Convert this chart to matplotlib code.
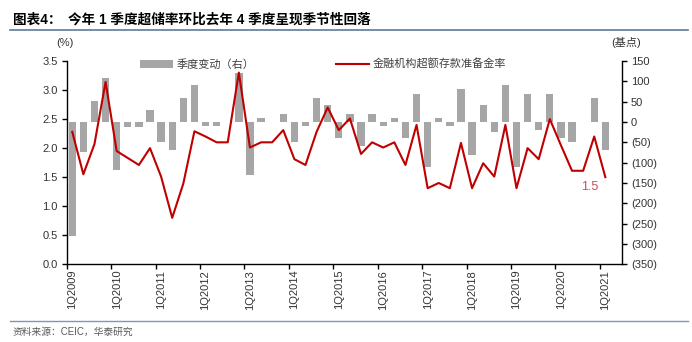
import numpy as np
import matplotlib
matplotlib.use("Agg")
import matplotlib.pyplot as plt
from matplotlib.patches import Patch
from matplotlib.lines import Line2D
from matplotlib.ticker import FuncFormatter

plt.rcParams['font.family'] = ['Liberation Sans', 'Noto Sans CJK SC', 'DejaVu Sans']

# 数据：金融机构超额存款准备金率 (%) 与季度变动 (基点)
quarters = ['%dQ%d' % (q, y) for y in range(2009, 2022) for q in range(1, 5)][:49]
ratio = [2.28, 1.55, 2.07, 3.14, 1.95, 1.83, 1.71, 2.00, 1.51, 0.80, 1.39, 2.29,
         2.20, 2.10, 2.10, 3.30, 2.01, 2.10, 2.10, 2.31, 1.81, 1.71, 2.28, 2.70,
         2.31, 2.51, 1.90, 2.10, 2.01, 2.10, 1.71, 2.40, 1.31, 1.40, 1.31, 2.09,
         1.31, 1.74, 1.51, 2.40, 1.31, 2.00, 1.81, 2.50, 2.05, 1.61, 1.61, 2.20,
         1.50]
change_bp = [-280, -74, 52, 107, -118, -13, -12, 30, -50, -70, 60, 90,
             -10, -10, 0, 120, -130, 10, 0, 20, -50, -10, 58, 42,
             -40, 20, -60, 20, -10, 10, -40, 70, -110, 10, -10, 80,
             -80, 43, -25, 90, -110, 70, -20, 70, -40, -50, 0, 60,
             -70]
left_ticks = [0.0, 0.5, 1.0, 1.5, 2.0, 2.5, 3.0, 3.5]
right_ticks = [-350, -300, -250, -200, -150, -100, -50, 0, 50, 100, 150]

title_head = '图表4：'
title_text = '今年 1 季度超储率环比去年 4 季度呈现季节性回落'
bar_label = '季度变动（右）'
line_label = '金融机构超额存款准备金率'
source = '资料来源：CEIC，华泰研究'

RED = '#C00000'
GREY = '#A6A6A6'
TXT = '#333333'
W, H = 692, 342

fig = plt.figure(figsize=(W / 100, H / 100), dpi=100)
x0, x1, ytop, ybot = 66.7, 622, 61, 264.3
ax = fig.add_axes([x0 / W, 1 - ybot / H, (x1 - x0) / W, (ybot - ytop) / H])
ax2 = ax.twinx()

x = np.arange(len(ratio))
ax2.bar(x, change_bp, width=0.66, color=GREY, zorder=2)
ax.plot(x, ratio, color=RED, lw=1.5, zorder=3)
ax.set_zorder(ax2.get_zorder() + 1)
ax.patch.set_visible(False)

ax.set_xlim(-0.5, 49.5)
ax.set_ylim(0, 3.5)
ax2.set_ylim(-350, 150)
ax.set_yticks(left_ticks)
ax.yaxis.set_major_formatter(FuncFormatter(lambda v, p: '%.1f' % v))
ax2.set_yticks(right_ticks)
ax2.yaxis.set_major_formatter(FuncFormatter(
    lambda v, p: '(%d)' % abs(v) if v < 0 else '%d' % v))

# ticks between categories, labels on category centres
ax.set_xticks(np.arange(0, 49, 4) - 0.5)
ax.set_xticklabels([])
ax.set_xticks(np.arange(0, 49, 4), minor=True)
ax.set_xticklabels(quarters[::4], minor=True, rotation=90, fontsize=8, color=TXT)
ax.tick_params(axis='x', which='major', length=3.5, width=1, direction='out')
ax.tick_params(axis='x', which='minor', length=0, pad=4)
ax.tick_params(axis='y', length=3.5, width=1, labelsize=8, labelcolor=TXT, pad=3)
ax2.tick_params(axis='y', length=3.5, width=1, labelsize=8, labelcolor=TXT, pad=3)

for a in (ax, ax2):
    a.spines['top'].set_visible(False)
    for s in ('left', 'right', 'bottom'):
        a.spines[s].set_linewidth(1)
        a.spines[s].set_color('black')
ax.spines['right'].set_visible(False)
ax2.spines['left'].set_visible(False)
ax2.spines['bottom'].set_visible(False)

ax.text(46.6, 1.33, '%.1f' % ratio[-1], color='#C8505A', fontsize=9,
        ha='center', va='center')

handles = [Patch(facecolor=GREY, edgecolor='none'), Line2D([], [], color=RED, lw=1.5)]
fig.legend(handles, [bar_label, line_label], loc='center left',
           bbox_to_anchor=(140 / W, 1 - 64 / H), ncol=2, frameon=False,
           borderpad=0, borderaxespad=0, handlelength=3.0, handletextpad=0.3,
           columnspacing=7.3, prop={'family': 'Noto Sans CJK SC', 'size': 8},
           labelcolor='#404040')

fig.text(65 / W, 1 - 43 / H, '(%)', fontsize=8, color=TXT, ha='center', va='center')
fig.text(626 / W, 1 - 43 / H, '(基点)', fontsize=8, color=TXT, ha='center', va='center')

fig.text(13 / W, 1 - 20 / H, title_head, fontsize=9.8, fontweight='bold', va='center')
fig.text(68 / W, 1 - 20 / H, title_text, fontsize=9.8, fontweight='bold', va='center')
fig.add_artist(Line2D([10 / W, 688 / W], [1 - 29.5 / H] * 2, color='#5B7A9E', lw=1.2))
fig.add_artist(Line2D([10 / W, 688 / W], [1 - 321 / H] * 2, color='#7F98B5', lw=1))
fig.text(13 / W, 1 - 331.5 / H, source, fontsize=7, color='#595959', va='center')

fig.savefig('out.png', dpi=100)
